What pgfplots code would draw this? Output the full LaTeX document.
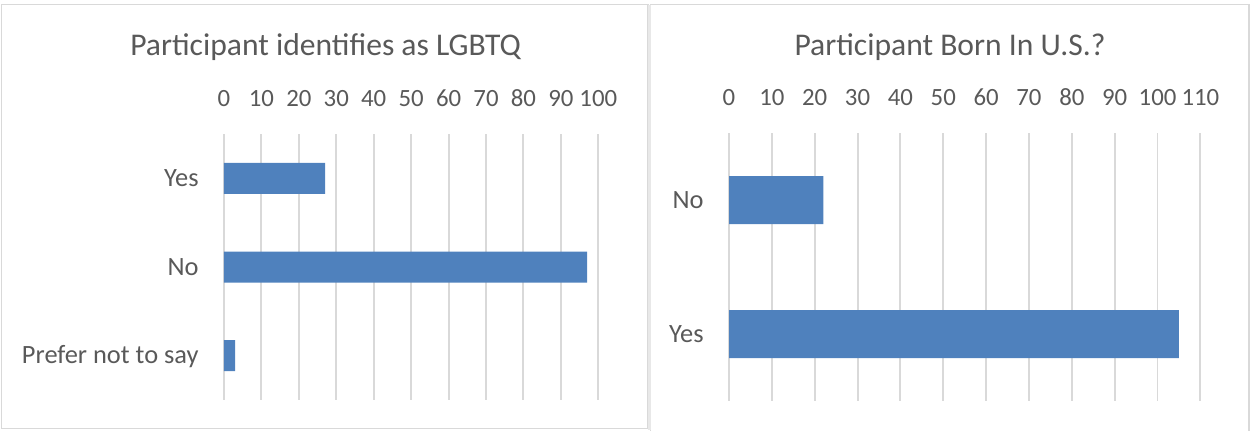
\documentclass[border=0pt]{standalone}
\usepackage{pgfplots}
\pgfplotsset{compat=1.18}
\usepackage{fontspec}
\setmainfont{Carlito}
\definecolor{barblue}{HTML}{4F81BD}
\definecolor{gridgray}{HTML}{D9D9D9}
\definecolor{txtgray}{HTML}{595959}
\begin{document}
\begin{tikzpicture}
\path[use as bounding box] (0pt,0pt) rectangle (625pt,215pt);
\draw[gridgray, line width=0.9pt] (0.75pt,0.75pt) rectangle (324pt,212.75pt);
\draw[gridgray, line width=0.9pt] (325.25pt,-2pt) -- (325.25pt,212.75pt) -- (624.5pt,212.75pt) -- (624.5pt,-2pt);
\fill[gridgray!60] (324pt,0pt) rectangle (325.25pt,212.75pt);
\pgfplotsset{
  mystyle/.style={
    scale only axis, xbar, y dir=reverse,
    axis line style={draw=none},
    major tick length=0pt,
    xmajorgrids, grid style={gridgray, line width=0.95pt},
    xticklabel pos=upper,
    /pgf/number format/assume math mode=true,
    xticklabel style={font=\fontsize{12.4}{14}\selectfont, text=txtgray, anchor=base, inner sep=0pt, yshift=13.7pt},
    yticklabel style={font=\fontsize{13.2}{15}\selectfont, text=txtgray, anchor=base east, inner sep=0pt, xshift=-12.5pt, yshift=-4pt},
    xmin=0, ytick=data,
  }
}
\begin{axis}[mystyle, at={(112pt,15pt)}, anchor=south west, width=187.15pt, height=133pt,
  xmax=100, xtick={0,10,...,100}, ymin=-0.5, ymax=2.5,
  yticklabels={Yes,No,Prefer not to say}, bar width=15.5pt]
\addplot[fill=barblue, draw=none] coordinates {(27,0) (97,1) (3,2)};
\end{axis}
\begin{axis}[mystyle, at={(364.5pt,14.5pt)}, anchor=south west, width=235.7pt, height=134pt,
  xmax=110, xtick={0,10,...,110}, ymin=-0.5, ymax=1.5,
  yticklabels={No,Yes}, bar width=24pt]
\addplot[fill=barblue, draw=none] coordinates {(22,0) (105,1)};
\end{axis}
\node[anchor=base, text=txtgray, font=\fontsize{15.8}{18}\selectfont] at (162.8pt,187.5pt) {Participant identifies as LGBTQ};
\node[anchor=base, text=txtgray, font=\fontsize{15.8}{18}\selectfont] at (475pt,187.5pt) {Participant Born In U.S.?};
\end{tikzpicture}
\end{document}
